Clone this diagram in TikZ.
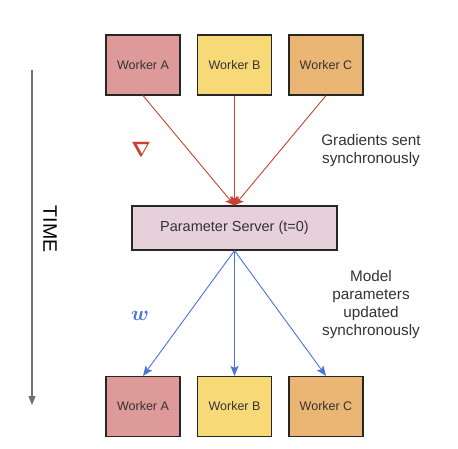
\documentclass[tikz,border=0pt]{standalone}
\usepackage{fontspec}
\setmainfont{Liberation Sans}
\usepackage{amsmath}
\usetikzlibrary{arrows.meta}

\definecolor{workA}{HTML}{DD9A98}
\definecolor{workB}{HTML}{F8D978}
\definecolor{workC}{HTML}{EBB574}
\definecolor{servfill}{HTML}{E6D1DB}
\definecolor{gradred}{HTML}{C7432F}
\definecolor{parblue}{HTML}{4A72D8}
\definecolor{txtgray}{HTML}{333333}
\definecolor{timegray}{HTML}{707070}

\tikzset{
    worker/.style={draw=black!85, line width=1.1pt, minimum width=74pt, minimum height=60pt,
        inner sep=0pt, text=txtgray, font=\fontsize{12.5}{14}\selectfont},
    server/.style={draw=black!85, line width=1.1pt, fill=servfill, minimum width=205pt,
        minimum height=44pt, inner sep=0pt, text=txtgray, font=\fontsize{14.5}{16}\selectfont},
    gradarrow/.style={draw=gradred, line width=0.9pt, -{Stealth[length=9pt,width=9pt,inset=2pt]}},
    pararrow/.style={draw=parblue, line width=0.9pt, -{Stealth[length=10pt,width=8pt,inset=2pt]}},
    note/.style={align=center, text=txtgray, font=\fontsize{15.3}{18}\selectfont}
}

\begin{document}
\begin{tikzpicture}[x=1pt,y=-1pt]

    \useasboundingbox (0,0) rectangle (458,449);

    % time axis
    \coordinate (tstart) at (32,70);
    \coordinate (tend) at (32,405);
    \draw[timegray, line width=1.2pt, -{Triangle[length=9pt,width=7pt]}] (tstart) -- (tend);
    \node[rotate=-90, text=black, font=\fontsize{19.5}{21}\selectfont] (time) at (50,229) {TIME};

    % workers, top and bottom
    \foreach \n/\c/\x in {A/workA/143,B/workB/234.5,C/workC/326} {
        \node[worker, fill=\c] (top\n) at (\x,65) {Worker \n};
        \node[worker, fill=\c] (bot\n) at (\x,406.5) {Worker \n};
    }

    \node[server] (ps) at (234.5,228) {Parameter Server (t=0)};

    \foreach \n in {A,B,C} {
        \draw[gradarrow] (top\n.south) -- (ps.north);
        \draw[pararrow] (ps.south) -- (bot\n.north);
    }

    \node[text=gradred, font=\fontsize{20}{20}\selectfont] (grad) at (141,149) {$\boldsymbol{\nabla}$};
    \node[text=parblue, font=\fontsize{20}{20}\selectfont] (wts) at (140,316) {$\boldsymbol{w}$};

    \node[note] (gradnote) at (371,151) {Gradients sent\\synchronously};
    \node[note] (parnote) at (371,305) {Model\\parameters\\updated\\synchronously};

\end{tikzpicture}
\end{document}
